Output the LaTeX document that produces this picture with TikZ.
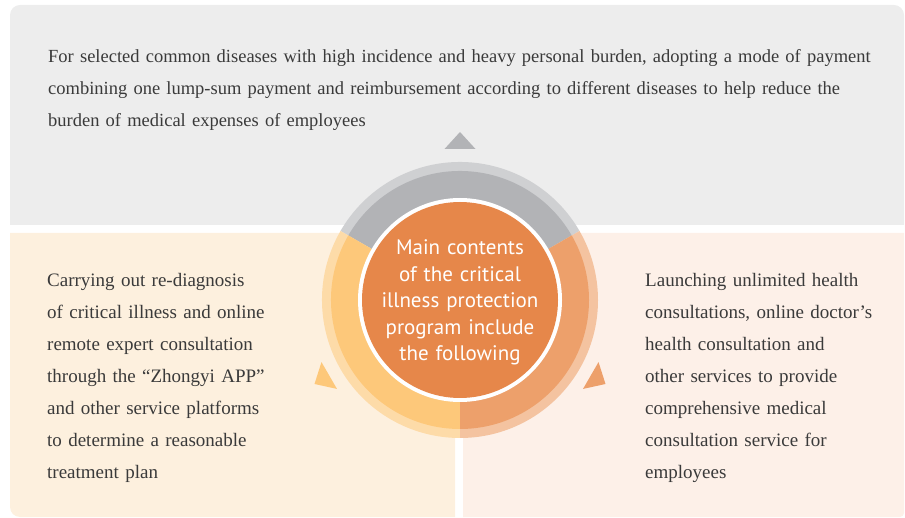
\documentclass[tikz,border=0pt]{standalone}
\usepackage{fontspec}
\setmainfont{Liberation Serif}
\newfontfamily\circfont{PT Sans}
\definecolor{topbg}{HTML}{EDEDED}
\definecolor{leftbg}{HTML}{FDF0DE}
\definecolor{rightbg}{HTML}{FDF0E8}
\definecolor{greyLite}{HTML}{CFD0D2}
\definecolor{greyDark}{HTML}{B2B3B6}
\definecolor{yelLite}{HTML}{FDDBA8}
\definecolor{yelDark}{HTML}{FDC87A}
\definecolor{orgLite}{HTML}{F4C3A0}
\definecolor{orgDark}{HTML}{EDA06B}
\definecolor{hub}{HTML}{E6874A}
\definecolor{txtgrey}{HTML}{3A3A3A}
\tikzset{
	panel text/.style={anchor=base west, inner sep=0pt, align=left, text=txtgrey,
		font=\fontsize{19}{32}\selectfont},
	hub text/.style={anchor=base, inner sep=0pt, align=center, text=white, text width=200pt,
		font=\circfont\fontsize{21}{26.4}\selectfont}
}
\begin{document}
\begin{tikzpicture}[x=1pt,y=1pt]
	\useasboundingbox (0,0) rectangle (905,517);
	% three panels
	\fill[topbg] (10,292) {[rounded corners=10] -- (10,512) -- (904,512)} -- (904,292) -- cycle;
	\fill[leftbg] (455,284) -- (455,0) {[rounded corners=10] -- (10,0)} -- (10,284) -- cycle;
	\fill[rightbg] (463,284) -- (904,284) {[rounded corners=4] -- (904,0)} -- (463,0) -- cycle;
	\coordinate (c) at (460,217);
	% ring segments
	\foreach \a/\b/\lite/\dark in {30/150/greyLite/greyDark, 150/270/yelLite/yelDark, -90/30/orgLite/orgDark} {
		\fill[\lite] (c) -- ++(\a:138) arc[start angle=\a, end angle=\b, radius=138] -- cycle;
		\fill[\dark] (c) -- ++(\a:129) arc[start angle=\a, end angle=\b, radius=129] -- cycle;
	}
	\fill[white] (c) circle[radius=102];
	\fill[hub] (c) circle[radius=98];
	% pointers
	\foreach \r/\col in {0/greyDark, 120/yelDark, -120/orgDark}
		\fill[\col, rotate around={\r:(c)}] (444.5,368) -- (475.5,368) -- (460,385) -- cycle;
	% texts
	\node[hub text] (hubtxt) at (460,262) {Main contents\\of the critical\\illness protection\\program include\\the following};
	\node[panel text, text width=860pt, font=\fontsize{18.5}{32}\selectfont] (toptxt) at (48,454) {For selected common diseases with high incidence and heavy personal burden, adopting a mode of payment\\combining one lump-sum payment and reimbursement according to different diseases to help reduce the\\burden of medical expenses of employees};
	\node[panel text, text width=260pt] (lefttxt) at (47,230) {Carrying out re-diagnosis\\of critical illness and online\\remote expert consultation\\through the “Zhongyi APP”\\and other service platforms\\to determine a reasonable\\treatment plan};
	\node[panel text, text width=250pt] (righttxt) at (645,230) {Launching unlimited health\\consultations, online doctor’s\\health consultation and\\other services to provide\\comprehensive medical\\consultation service for\\employees};
\end{tikzpicture}
\end{document}
